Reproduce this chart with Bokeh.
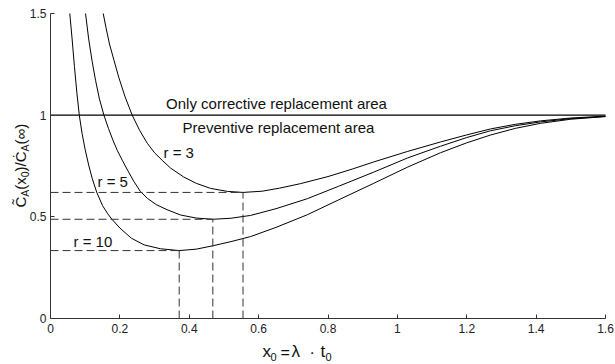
import math
from bokeh.plotting import figure
from bokeh.models import FixedTicker, Range1d
from bokeh.core.properties import value
from bokeh.embed import file_html
from bokeh.resources import INLINE

# ---- data ----
x_r3 = [0.152, 0.160, 0.170, 0.183, 0.197, 0.215, 0.2355, 0.257, 0.279, 0.300, 0.322, 0.346,
        0.384, 0.420, 0.461, 0.510, 0.555, 0.610, 0.660, 0.720, 0.800, 0.870, 0.932, 1.030,
        1.124, 1.200, 1.268, 1.340, 1.413, 1.500, 1.600]
y_r3 = [1.50, 1.43, 1.35, 1.27, 1.185, 1.09, 1.00, 0.925, 0.862, 0.815, 0.778, 0.740,
        0.696, 0.665, 0.640, 0.625, 0.620, 0.626, 0.641, 0.663, 0.698, 0.735, 0.770, 0.822,
        0.868, 0.903, 0.932, 0.955, 0.972, 0.986, 0.995]

x_r5 = [0.101, 0.110, 0.120, 0.130, 0.141, 0.154, 0.167, 0.180, 0.193, 0.207, 0.222, 0.240,
        0.259, 0.280, 0.305, 0.336, 0.375, 0.420, 0.468, 0.520, 0.577, 0.650, 0.740, 0.830,
        0.932, 1.030, 1.124, 1.200, 1.268, 1.340, 1.413, 1.500, 1.600]
y_r5 = [1.50, 1.375, 1.265, 1.17, 1.08, 1.00, 0.935, 0.877, 0.825, 0.778, 0.730, 0.675,
        0.625, 0.590, 0.560, 0.535, 0.509, 0.494, 0.488, 0.493, 0.507, 0.540, 0.589, 0.650,
        0.720, 0.790, 0.847, 0.890, 0.923, 0.948, 0.967, 0.983, 0.994]

x_r10 = [0.0556, 0.062, 0.069, 0.076, 0.083, 0.091, 0.100, 0.110, 0.120, 0.133, 0.150, 0.165,
         0.177, 0.200, 0.233, 0.270, 0.317, 0.371, 0.420, 0.469, 0.520, 0.577, 0.650, 0.740,
         0.830, 0.932, 1.030, 1.124, 1.200, 1.268, 1.340, 1.413, 1.500, 1.600]
y_r10 = [1.50, 1.38, 1.24, 1.11, 1.00, 0.91, 0.83, 0.755, 0.69, 0.622, 0.555, 0.515,
         0.488, 0.445, 0.395, 0.362, 0.343, 0.334, 0.341, 0.358, 0.378, 0.403, 0.448, 0.510,
         0.583, 0.665, 0.745, 0.815, 0.864, 0.902, 0.935, 0.960, 0.980, 0.993]

r_values = [3, 5, 10]
opt_x = [0.555, 0.468, 0.371]
opt_y = [0.620, 0.488, 0.334]

x_ticks = [0, 0.2, 0.4, 0.6, 0.8, 1, 1.2, 1.4, 1.6]
x_tick_labels = ["0", "0.2", "0.4", "0.6", "0.8", "1", "1.2", "1.4", "1.6"]
y_ticks = [0, 0.5, 1, 1.5]
y_tick_labels = ["0", "0.5", "1", "1.5"]
ref_level = 1.0

FONT = "Liberation Sans"
W, H = 615, 364

# axes box in picture pixels: x 0..1.6 -> 50..605, y 0..1.5 -> 318..13
FL, FR, FT, FB = 50, 605, 13, 318
XPU = (FR - FL) / (x_ticks[-1] - x_ticks[0])
YPU = (FB - FT) / (y_ticks[-1] - y_ticks[0])
BASE_SHIFT = 0.4  # measured offset of the rendered text baseline, in em


def dx(px):
    return x_ticks[0] + (px - FL) / XPU


def dy(py):
    return y_ticks[0] + (FB - py) / YPU


p = figure(width=W, height=H, output_backend="svg", toolbar_location=None,
           x_range=Range1d(dx(0), dx(W)), y_range=Range1d(dy(H), dy(0)),
           min_border=0, min_border_left=0, min_border_right=0,
           min_border_top=0, min_border_bottom=0)
p.outline_line_color = None
p.xgrid.visible = False
p.ygrid.visible = False
p.background_fill_color = "white"
p.border_fill_color = "white"

p.xaxis.fixed_location = y_ticks[0]
p.xaxis.bounds = (x_ticks[0], x_ticks[-1])
p.yaxis.fixed_location = x_ticks[0]
p.yaxis.bounds = (y_ticks[0], y_ticks[-1])

for ax, ticks, labels in ((p.xaxis[0], x_ticks, x_tick_labels), (p.yaxis[0], y_ticks, y_tick_labels)):
    ax.ticker = FixedTicker(ticks=ticks)
    ax.major_label_overrides = {t: l for t, l in zip(ticks, labels)}
    ax.major_tick_in = 4
    ax.major_tick_out = 0
    ax.minor_tick_in = 0
    ax.minor_tick_out = 0
    ax.axis_line_color = "#333333"
    ax.axis_line_width = 1
    ax.major_tick_line_color = "#333333"
    ax.major_label_text_font = FONT
    ax.major_label_text_font_size = "12px"
    ax.major_label_text_color = "#222222"
p.xaxis.major_label_standoff = 5
p.yaxis.major_label_standoff = 4

# curves
for xs, ys in ((x_r3, y_r3), (x_r5, y_r5), (x_r10, y_r10)):
    p.line(xs, ys, line_color="black", line_width=1)

# optimum dashed guides
p.segment(x0=[x_ticks[0]] * len(opt_x), y0=opt_y, x1=opt_x, y1=opt_y,
          line_color="#333333", line_width=1, line_dash="8 4")
p.segment(x0=opt_x, y0=[y_ticks[0]] * len(opt_x), x1=opt_x, y1=opt_y,
          line_color="#333333", line_width=1, line_dash="8 4")

# reference line at 1
p.segment(x0=[x_ticks[0]], y0=[ref_level], x1=[x_ticks[-1]], y1=[ref_level],
          line_color="black", line_width=1.4)


def lab(text, px, py, size=15, align="left", rotated=False):
    # px, py: wanted baseline anchor in picture pixels
    if rotated:
        px -= BASE_SHIFT * size
    else:
        py -= BASE_SHIFT * size
    p.text(x=[dx(px)], y=[dy(py)], text=[text], text_font=value(FONT),
           text_font_size=f"{size}px", text_color="#111111", text_align=align,
           text_baseline="alphabetic", angle=(math.pi / 2 if rotated else 0.0))


lab("Only corrective replacement area", 276, 108.5, align="center")
lab("Preventive replacement area", 278, 132.5, align="center")

r_label_pos = [(163, 158), (97, 186.5), (73, 246.5)]
for r, (px, py) in zip(r_values, r_label_pos):
    lab(f"r = {r}", px, py)

# x axis label: x0 = λ · t0
xl_base = 358.0
lab("x", 262, xl_base, size=17)
lab("0", 270, xl_base + 2.5, size=11)
lab("=", 280, xl_base, size=16)
lab("λ", 291, xl_base, size=17)
lab("·", 309, xl_base, size=16)
lab("t", 320, xl_base, size=17)
lab("0", 325, xl_base + 2.5, size=11)

# y axis label (rotated)
yl_parts = [("C\u0303", 15, False, 10.8), ("A", 10.5, True, 7.0), ("(x", 15, False, 12.5),
            ("0", 10.5, True, 5.8), (")/\u010a", 15, False, 20.0), ("A", 10.5, True, 7.0),
            ("(\u221e)", 15, False, 20.7)]
pos = 207.0
for txt, sz, sub, w in yl_parts:
    bx = 25.5 + (3.5 if sub else 0)
    lab(txt, bx, pos, size=sz, rotated=True)
    pos -= w

open("out.html", "w").write(file_html(p, INLINE))
